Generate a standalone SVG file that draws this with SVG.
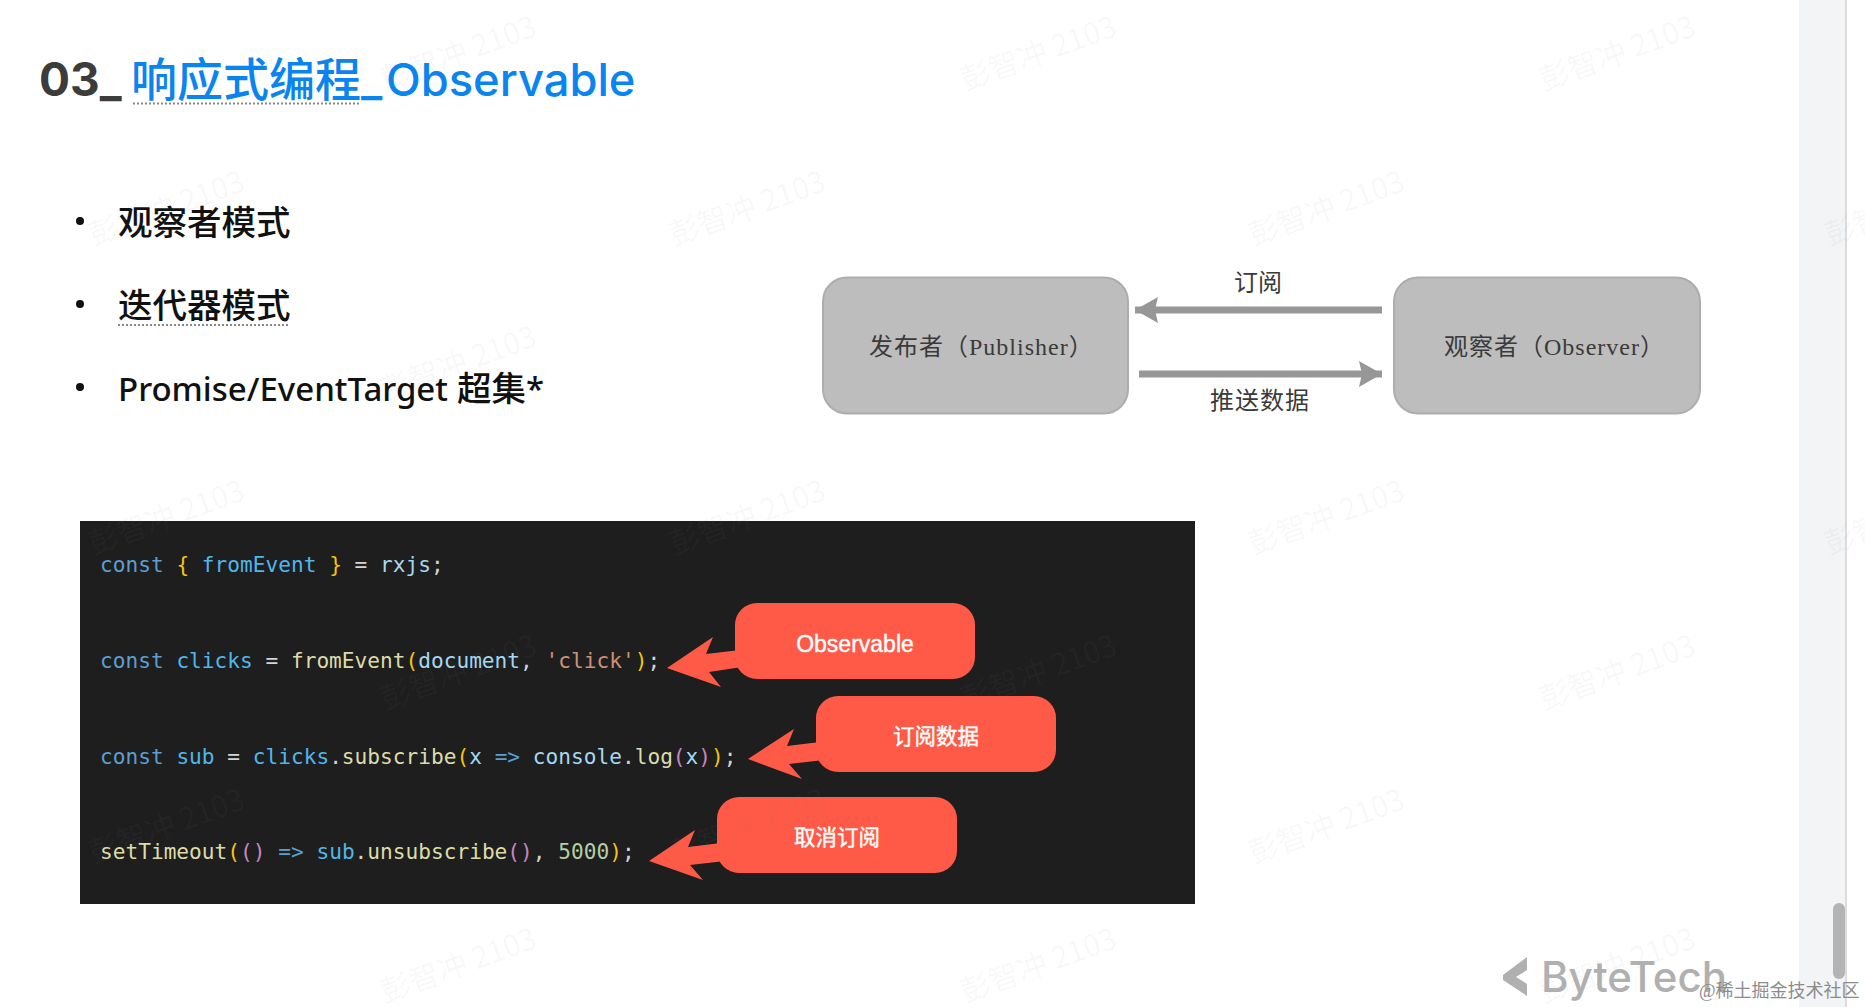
<svg xmlns="http://www.w3.org/2000/svg" width="1865" height="1007" viewBox="0 0 1865 1007">
<style>
.wm{font:30px "Noto Sans CJK SC","Liberation Sans",sans-serif;fill:#808080;fill-opacity:.06;text-anchor:middle}
.title{font-family:"Inter","Noto Sans CJK SC",sans-serif;font-size:46px;font-weight:500}
.t03{font-weight:700;fill:#3c3c3c}
.bul{font-family:"Noto Sans","Noto Sans CJK SC",sans-serif;font-size:34.500px;font-weight:500;fill:#111}
.lat{font-size:33px}
.dot{stroke:#888;stroke-width:2;stroke-dasharray:2 2;fill:none}
.gbox{fill:#bdbdbd;stroke:#adadad;stroke-width:2}
.glab{font-family:"Liberation Serif","Noto Sans CJK SC",serif;font-size:24px;fill:#3a3a3a;text-anchor:middle}
.nlab{text-anchor:start;letter-spacing:1px}
.gline{stroke:#979797;stroke-width:7;fill:none;marker-end:url(#gh)}
.code{font-family:"DejaVu Sans Mono","Liberation Mono",monospace;font-size:21.150px;white-space:pre;fill:#d4d4d4}
.k{fill:#5b9fd0}.v{fill:#4fb6ea}.p{fill:#a5d8f0}.f{fill:#dcdcaa}.y{fill:#f2c511}.m{fill:#c586c0}.s{fill:#ce9178}.n{fill:#b5cea8}
.red{fill:#ff5a47}
.rlab{font-family:"Liberation Sans","Noto Sans CJK SC",sans-serif;font-size:23px;fill:#fff;stroke:#fff;stroke-width:.4;text-anchor:middle}
.rcjk{font-size:21.500px}
</style>
<defs>
<marker id="gh" markerUnits="userSpaceOnUse" markerWidth="26" markerHeight="28" refX="23" refY="14" orient="auto"><path d="M0 1L23 14L0 27L3 14Z" fill="#979797"/></marker>
</defs>
<rect width="1865" height="1007" fill="#fff"/>
<g id="sidebar">
<rect x="1799" y="0" width="46" height="1007" fill="#f2f4f5"/>
<rect x="1845" y="0" width="2" height="1007" fill="#dcdcdc"/>
<rect x="1833" y="903" width="12" height="76" rx="6" fill="#b4b4b4"/>
</g>
<g id="title">
<text class="title t03" x="39" y="96">03_</text>
<text class="title" x="131" y="96" fill="#0a84ee">响应式编程_<tspan x="386" font-size="45.300">Observable</tspan></text>
<line class="dot" x1="133" y1="103.500" x2="359" y2="103.500"/>
</g>
<g id="bullets">
<circle cx="80" cy="221" r="4" fill="#111"/><text class="bul" x="118" y="235">观察者模式</text>
<circle cx="80" cy="304" r="4" fill="#111"/><text class="bul" x="118" y="318">迭代器模式</text>
<line class="dot" x1="118" y1="325" x2="290" y2="325"/>
<circle cx="80" cy="387" r="4" fill="#111"/><text class="bul" x="118" y="401"><tspan class="lat">Promise/EventTarget</tspan> 超集<tspan class="lat">*</tspan></text>
</g>
<g id="publisher"><rect class="gbox" x="823" y="277.500" width="305" height="136" rx="24"/><text class="glab nlab" x="869" y="355">发布者（Publisher）</text></g>
<g id="observer"><rect class="gbox" x="1394" y="277.500" width="306" height="136" rx="24"/><text class="glab nlab" x="1444" y="355">观察者（Observer）</text></g>
<g id="code">
<rect x="80" y="521" width="1115" height="383" fill="#1e1e1e"/>
<text class="code" x="100" y="572"><tspan class="k">const</tspan> <tspan class="y">{</tspan> <tspan class="v">fromEvent</tspan> <tspan class="y">}</tspan> = <tspan class="p">rxjs</tspan>;</text>
<text class="code" x="100" y="668"><tspan class="k">const</tspan> <tspan class="v">clicks</tspan> = <tspan class="f">fromEvent</tspan><tspan class="y">(</tspan><tspan class="p">document</tspan>, <tspan class="s">'click'</tspan><tspan class="y">)</tspan>;</text>
<text class="code" x="100" y="764"><tspan class="k">const</tspan> <tspan class="v">sub</tspan> = <tspan class="v">clicks</tspan>.<tspan class="f">subscribe</tspan><tspan class="y">(</tspan><tspan class="p">x</tspan> <tspan class="k">=&gt;</tspan> <tspan class="p">console</tspan>.<tspan class="f">log</tspan><tspan class="m">(</tspan><tspan class="p">x</tspan><tspan class="m">)</tspan><tspan class="y">)</tspan>;</text>
<text class="code" x="100" y="859"><tspan class="f">setTimeout</tspan><tspan class="y">(</tspan><tspan class="m">()</tspan> <tspan class="k">=&gt;</tspan> <tspan class="v">sub</tspan>.<tspan class="f">unsubscribe</tspan><tspan class="m">()</tspan>, <tspan class="n">5000</tspan><tspan class="y">)</tspan>;</text>
</g>
<g id="connectors">
<line class="gline" x1="1382" y1="310" x2="1135" y2="310"/>
<line class="gline" x1="1139" y1="374" x2="1382" y2="374"/>
<polygon class="red" points="667,668 713,637 706,654 740,650 742,667 709,672 721,687"/>
<polygon class="red" points="748,759 794,729 787,746 820,742 824,760 789,764 802,779"/>
<polygon class="red" points="649,861 695,830 688,847 721,843 725,861 690,865 703,880"/>
</g>
<g id="label-subscribe"><text class="glab" x="1258" y="291">订阅</text></g>
<g id="label-push"><text class="glab nlab" x="1210" y="409">推送数据</text></g>
<g id="callout-observable"><rect class="red" x="735" y="603" width="240" height="76" rx="22"/><text class="rlab" x="855" y="652">Observable</text></g>
<g id="callout-subscribe"><rect class="red" x="816" y="696" width="240" height="76" rx="22"/><text class="rlab rcjk" x="936" y="744">订阅数据</text></g>
<g id="callout-unsubscribe"><rect class="red" x="717" y="797" width="240" height="76" rx="22"/><text class="rlab rcjk" x="837" y="845">取消订阅</text></g>
<g id="watermarks">
<text class="wm" transform="translate(462,63) rotate(-20)">彭智冲 2103</text>
<text class="wm" transform="translate(1042,63) rotate(-20)">彭智冲 2103</text>
<text class="wm" transform="translate(1621,63) rotate(-20)">彭智冲 2103</text>
<text class="wm" transform="translate(170,218) rotate(-20)">彭智冲 2103</text>
<text class="wm" transform="translate(751,218) rotate(-20)">彭智冲 2103</text>
<text class="wm" transform="translate(1330,218) rotate(-20)">彭智冲 2103</text>
<text class="wm" transform="translate(1906,218) rotate(-20)">彭智冲 2103</text>
<text class="wm" transform="translate(462,373) rotate(-20)">彭智冲 2103</text>
<text class="wm" transform="translate(170,527) rotate(-20)">彭智冲 2103</text>
<text class="wm" transform="translate(751,527) rotate(-20)">彭智冲 2103</text>
<text class="wm" transform="translate(1330,527) rotate(-20)">彭智冲 2103</text>
<text class="wm" transform="translate(1906,527) rotate(-20)">彭智冲 2103</text>
<text class="wm" transform="translate(462,682) rotate(-20)">彭智冲 2103</text>
<text class="wm" transform="translate(1042,682) rotate(-20)">彭智冲 2103</text>
<text class="wm" transform="translate(1621,682) rotate(-20)">彭智冲 2103</text>
<text class="wm" transform="translate(170,836) rotate(-20)">彭智冲 2103</text>
<text class="wm" transform="translate(751,836) rotate(-20)">彭智冲 2103</text>
<text class="wm" transform="translate(1330,836) rotate(-20)">彭智冲 2103</text>
<text class="wm" transform="translate(462,975) rotate(-20)">彭智冲 2103</text>
<text class="wm" transform="translate(1042,975) rotate(-20)">彭智冲 2103</text>
<text class="wm" transform="translate(1621,975) rotate(-20)">彭智冲 2103</text>
</g>
<g id="bytetech">
<path d="M1527 957L1503 975V980L1527 996V984L1516 977L1527 970Z" fill="#b0b0b0"/>
<text x="1541" y="992" font-family="Inter,'Liberation Sans',sans-serif" font-size="42" font-weight="500" fill="#b0b0b0">ByteTech</text>
</g>
<g id="credit"><text x="1699" y="997" font-family="'Liberation Serif','Noto Sans CJK SC',serif" font-size="18" fill="#8c8c8c">@稀土掘金技术社区</text></g>
</svg>
